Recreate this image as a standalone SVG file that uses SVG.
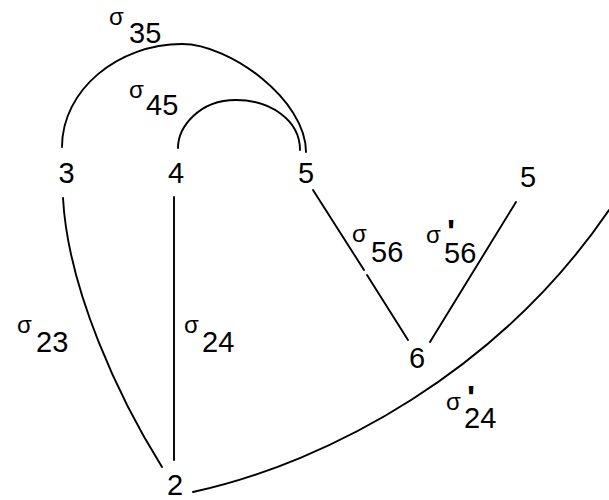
<svg xmlns="http://www.w3.org/2000/svg" width="609" height="500" viewBox="0 0 609 500">
<style>
.e{fill:none;stroke:#000;stroke-width:1.9;stroke-linecap:round}
.n{font-family:"Liberation Sans",Arial,sans-serif;font-size:29px;fill:#000;text-anchor:middle}
.l{font-family:"Liberation Sans",Arial,sans-serif;font-size:29px;fill:#000}
.s{font-size:24px}
.p{font-size:34px;font-weight:bold}
</style>
<rect width="609" height="500" fill="#fff"/>
<g id="connectors">
<path class="e" d="M62,147 C62,90 118,44 182,44 C230,44 306,100 306,152"/>
<path class="e" d="M178,148 C178,128 198,100 236,100 C270,100 300,120 300,150"/>
<path class="e" d="M63,198 C68,290 120,400 162,467"/>
<path class="e" d="M174,197 L174,460"/>
<path class="e" d="M313,190 L364,270 M367,275 L408,340"/>
<path class="e" d="M516,202 L430,342"/>
<path class="e" d="M193,492 C330,462 500,370 609,210"/>
</g>
<g id="node-3"><text class="n" x="66.5" y="183">3</text></g>
<g id="node-4"><text class="n" x="176" y="183">4</text></g>
<g id="node-5"><text class="n" x="306" y="183">5</text></g>
<g id="node-5b"><text class="n" x="528" y="187">5</text></g>
<g id="node-6"><text class="n" x="417" y="368">6</text></g>
<g id="node-2"><text class="n" x="175" y="495">2</text></g>
<g id="labels">
<text class="l"><tspan class="s" x="109" y="25">σ</tspan><tspan x="129" y="43">35</tspan></text>
<text class="l"><tspan class="s" x="129" y="98">σ</tspan><tspan x="146" y="115">45</tspan></text>
<text class="l"><tspan class="s" x="352" y="242">σ</tspan><tspan x="371" y="262">56</tspan></text>
<text class="l"><tspan class="s" x="426" y="243">σ</tspan><tspan class="p" x="447" y="243">'</tspan><tspan x="444" y="263">56</tspan></text>
<text class="l"><tspan class="s" x="17" y="333">σ</tspan><tspan x="36" y="352">23</tspan></text>
<text class="l"><tspan class="s" x="184" y="333">σ</tspan><tspan x="202" y="352">24</tspan></text>
<text class="l"><tspan class="s" x="446" y="410">σ</tspan><tspan class="p" x="467" y="409">'</tspan><tspan x="464" y="428">24</tspan></text>
</g>
</svg>
